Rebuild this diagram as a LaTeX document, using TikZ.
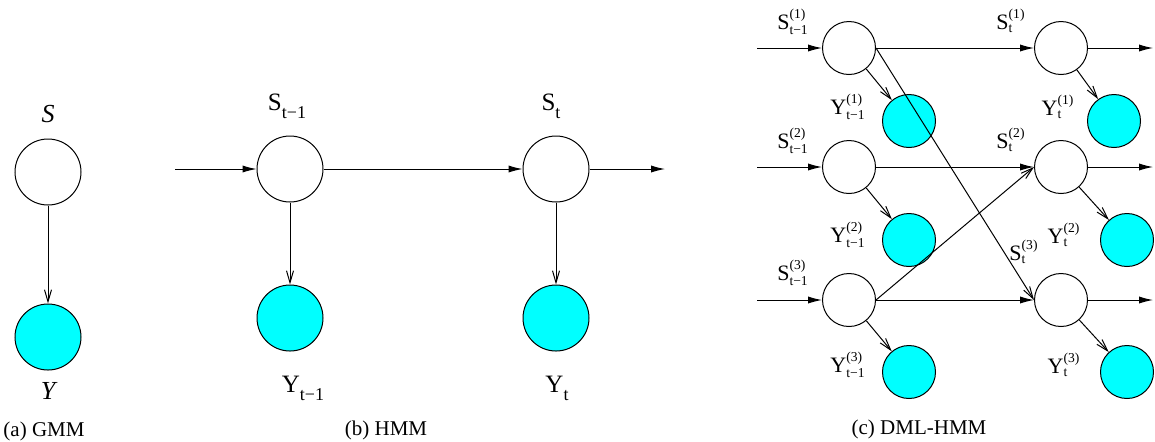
\documentclass[tikz,border=0pt]{standalone}
\usepackage{amsmath}
\usepackage{fontspec}
\setmainfont{Liberation Serif}
\usepackage{xcolor}
\usepackage{tikz}
\usetikzlibrary{arrows.meta, positioning, calc}

\definecolor{obsfill}{RGB}{0,255,255}
\newcommand{\scr}[1]{\text{\fontsize{6.8pt}{7pt}\selectfont #1}}
\newcommand{\vlab}[3]{#1$^{\scr{#3}}_{\scr{#2}}$}
\newcommand{\hlab}[2]{#1\raisebox{-4pt}{\fontsize{9pt}{10pt}\selectfont #2}}

\begin{document}
\begin{tikzpicture}[
  x=0.5pt, y=-0.5pt,
  line width=0.5pt,
  font=\fontsize{11pt}{13pt}\selectfont,
  hid/.style={circle, draw, fill=white, inner sep=0pt, minimum size=33pt},
  obs/.style={circle, draw, fill=obsfill, inner sep=0pt, minimum size=33pt},
  hids/.style={hid, minimum size=26.5pt},
  obss/.style={obs, minimum size=26.5pt},
  lab/.style={inner sep=0.5pt},
  emit/.style={-{Straight Barb[length=6pt, width=3.5pt]}},
  trans/.style={-{Latex[length=7pt, width=3.6pt]}},
  captxt/.style={font=\fontsize{10.5pt}{12pt}\selectfont},
  hmmtxt/.style={lab, font=\fontsize{12.5pt}{14pt}\selectfont},
  gmmtxt/.style={lab, font=\fontsize{13pt}{15pt}\selectfont\itshape}
]
\useasboundingbox (0,0) rectangle (1155,441);
% (a) GMM
\node[hid] (gs) at (48,172) {};
\node[obs] (gy) at (48,337) {};
\node[gmmtxt] (gsl) at (48,114) {S};
\node[gmmtxt] (gyl) at (48,391) {Y};
\draw[emit] (gs) -- (gy);
\node[captxt] (capa) at (44,431) {(a) GMM};
% (b) HMM
\coordinate (hin) at (175,169);
\coordinate (hout) at (665,169);
\node[hid] (hs1) at (290,169) {};
\node[obs] (hy1) at (290,318) {};
\node[hid] (hs2) at (556,169) {};
\node[obs] (hy2) at (556,318) {};
\node[hmmtxt] (hs1l) at (287,106) {\hlab{S}{t−1}};
\node[hmmtxt] (hs2l) at (551,106) {\hlab{S}{t}};
\node[hmmtxt] (hy1l) at (303,388) {\hlab{Y}{t−1}};
\node[hmmtxt] (hy2l) at (557,388) {\hlab{Y}{t}};
\draw[trans] (hin) -- (hs1);
\draw[trans] (hs1) -- (hs2);
\draw[trans] (hs2) -- (hout);
\draw[emit] (hs1) -- (hy1);
\draw[emit] (hs2) -- (hy2);
\node[captxt] (capb) at (386,430) {(b) HMM};
% (c) DML-HMM, left column
\node[hids] (a1) at (849,48) {};
\node[hids] (a2) at (849,167) {};
\node[hids] (a3) at (849,300) {};
\node[obss] (ya1) at (909,121) {};
\node[obss] (ya2) at (909,240) {};
\node[obss] (ya3) at (909,372) {};
% right column
\node[hids] (b1) at (1061,48) {};
\node[hids] (b2) at (1061,167) {};
\node[hids] (b3) at (1061,300) {};
\node[obss] (yb1) at (1114,121) {};
\node[obss] (yb2) at (1127,240) {};
\node[obss] (yb3) at (1127,372) {};
% labels
\node[lab] (a1l) at (793,22) {\vlab{S}{t−1}{(1)}};
\node[lab] (a2l) at (793,141) {\vlab{S}{t−1}{(2)}};
\node[lab] (a3l) at (793,273) {\vlab{S}{t−1}{(3)}};
\node[lab] (b1l) at (1011,21) {\vlab{S}{t}{(1)}};
\node[lab] (b2l) at (1011,140) {\vlab{S}{t}{(2)}};
\node[lab] (b3l) at (1024,252) {\vlab{S}{t}{(3)}};
\node[lab] (ya1l) at (848,107) {\vlab{Y}{t−1}{(1)}};
\node[lab] (ya2l) at (848,235) {\vlab{Y}{t−1}{(2)}};
\node[lab] (ya3l) at (848,365) {\vlab{Y}{t−1}{(3)}};
\node[lab] (yb1l) at (1058,107) {\vlab{Y}{t}{(1)}};
\node[lab] (yb2l) at (1064,235) {\vlab{Y}{t}{(2)}};
\node[lab] (yb3l) at (1064,365) {\vlab{Y}{t}{(3)}};
% in and out
\coordinate (in1) at (757,48);
\coordinate (in2) at (757,167);
\coordinate (in3) at (757,300);
\coordinate (out1) at (1153,48);
\coordinate (out2) at (1153,167);
\coordinate (out3) at (1153,300);
\draw[trans] (in1) -- (a1);
\draw[trans] (in2) -- (a2);
\draw[trans] (in3) -- (a3);
\draw[trans] (a1) -- (b1);
\draw[trans] (a2) -- (b2);
\draw[trans] (a3) -- (b3);
\draw[trans] (b1) -- (out1);
\draw[trans] (b2) -- (out2);
\draw[trans] (b3) -- (out3);
% coupling
\draw[emit] (a1.east) -- (b3.west);
\draw[emit] (a3.east) -- (b2.west);
% observations
\draw[emit] (a1) -- (ya1);
\draw[emit] (a2) -- (ya2);
\draw[emit] (a3) -- (ya3);
\draw[emit] (b1) -- (yb1);
\draw[emit] (b2) -- (yb2);
\draw[emit] (b3) -- (yb3);
\node[captxt] (capc) at (919,429) {(c) DML-HMM};
\end{tikzpicture}
\end{document}
